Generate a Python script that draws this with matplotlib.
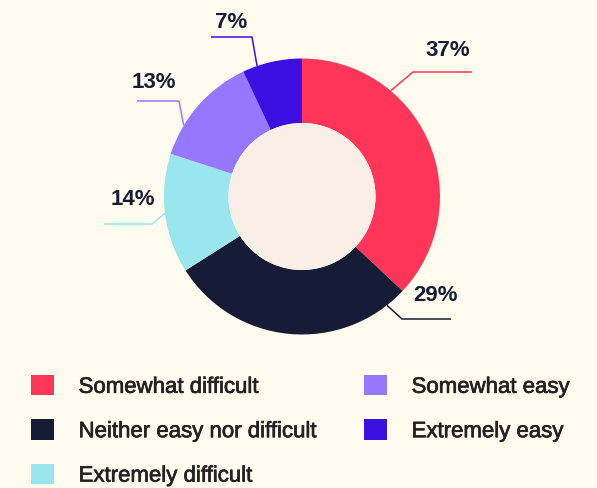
import numpy as np
import matplotlib.pyplot as plt
import matplotlib.patheffects as pe
from matplotlib.patches import Circle

plt.rcParams['font.family'] = ['Liberation Sans', 'DejaVu Sans']

# 数据
categories = ['Somewhat difficult', 'Neither easy nor difficult', 'Extremely difficult',
              'Somewhat easy', 'Extremely easy']
shares = [37, 29, 14, 13, 7]
colors = ['#ff3659', '#161c36', '#9ae6ee', '#9777ff', '#3c10e0']

# 画布尺寸（像素）
W, H = 597, 489
BG = '#fffbee'
CENTER = (302, H - 197.5)
R_OUT, R_IN = 138, 73.5

# 标签与引线布局（图像像素坐标，y 向下）
label_xy = [(448, 51), (435, 296), (133, 200), (154, 83), (231, 23)]
leader_deg = [50, -52, 187, 149, 109]
elbow_xy = [(413, 73), (402, 320), (152, 225), (179, 102), (252, 38)]
end_xy = [(472, 73), (451, 320), (104, 225), (137, 102), (211, 38)]


def plot_donut():
    fig = plt.figure(figsize=(W / 100, H / 100), dpi=100, facecolor=BG)
    ax = fig.add_axes([0, 0, 1, 1])
    ax.set_facecolor(BG)

    wedges, _ = ax.pie(shares, colors=colors, startangle=90, counterclock=False,
                       center=CENTER, radius=R_OUT,
                       wedgeprops=dict(width=R_OUT - R_IN, linewidth=0))
    ax.add_patch(Circle(CENTER, R_IN, facecolor='#f9efe6', edgecolor='none'))

    # 百分比标签和引线
    for i, v in enumerate(shares):
        a = np.deg2rad(leader_deg[i])
        x0 = CENTER[0] + R_OUT * np.cos(a)
        y0 = CENTER[1] + R_OUT * np.sin(a)
        xs = [x0, elbow_xy[i][0], end_xy[i][0]]
        ys = [y0, H - elbow_xy[i][1], H - end_xy[i][1]]
        ax.plot(xs, ys, color=colors[i], lw=1.1, solid_capstyle='butt')
        ax.text(label_xy[i][0], H - label_xy[i][1], f'{v}%', ha='center', va='center',
                fontsize=16, fontweight='bold', color='#161c36')

    leg = ax.legend(wedges, categories, ncol=2, loc='upper left',
                    bbox_to_anchor=(31, H - 376), bbox_transform=ax.transData,
                    frameon=False, fontsize=16, labelcolor='#222222',
                    handlelength=1.04, handleheight=1.04, handletextpad=1.1,
                    columnspacing=2.1, labelspacing=0.97, borderpad=0, borderaxespad=0)
    # 图例文字略加粗
    for t in leg.get_texts():
        t.set_path_effects([pe.withStroke(linewidth=0.5, foreground='#222222')])

    ax.set_xlim(0, W)
    ax.set_ylim(0, H)
    ax.set_aspect('equal')
    ax.axis('off')
    fig.savefig('out.png', dpi=100, facecolor=BG)


def main():
    plot_donut()


if __name__ == '__main__':
    main()
